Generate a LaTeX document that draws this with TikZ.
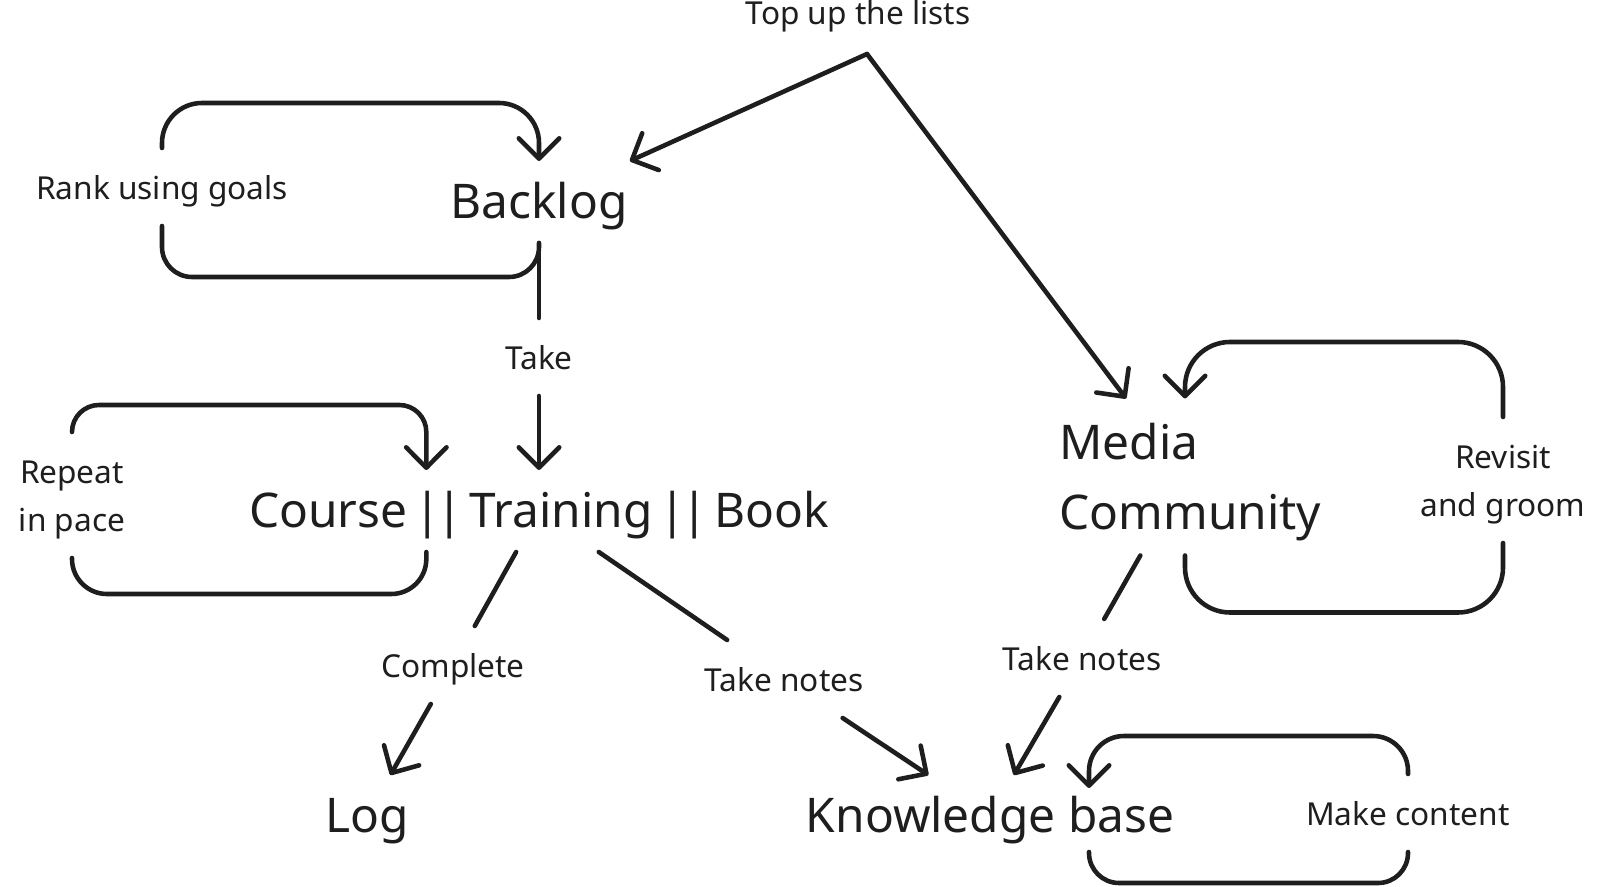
\documentclass[tikz,border=0pt]{standalone}
\usepackage{fontspec}
\setmainfont{Noto Sans}
\usetikzlibrary{arrows.meta}

\definecolor{ink}{RGB}{30,30,30}
\newcommand{\bars}{\hspace{2pt}|\kern-1.3pt|\hspace{2pt}}

\begin{document}
\begin{tikzpicture}[
    line width=1.3pt, line cap=round, line join=round, color=ink,
    txt/.style={inner xsep=1pt, inner ysep=0pt, outer sep=0pt, text=ink},
    big/.style={txt, font=\fontsize{13.6}{20.1}\selectfont, minimum height=0.82cm,
        text height=0.97em, text depth=0.03em},
    lbl/.style={txt, font=\fontsize{9}{13.7}\selectfont, minimum height=0.78cm,
        text height=0.86em, text depth=0.14em},
    lbltwo/.style={txt, font=\fontsize{9}{13.7}\selectfont, minimum height=1.26cm, align=center,
        text height=21pt, text depth=0.4pt},
    arr/.style={-{Straight Barb[length=5.8pt,width=11.5pt,round]}},
    ring/.style={rounded corners=#1},
    ring/.default=0.4cm
]
    \useasboundingbox (0,0) rectangle (16,-8.87);

    % text
    \node[lbl, anchor=base] (topup) at (8.58,-0.25) {Top up the lists};
    \coordinate (split) at (8.67,-0.54);

    \node[big] (backlog) at (5.39,-2.02) {Backlog};
    \node[lbl] (rank) at (1.62,-1.87) {Rank using goals};
    \node[lbl] (take) at (5.39,-3.57) {Take};

    \node[big] (course) at (5.39,-5.11) {Course\bars Training\bars Book};
    \node[lbltwo] (repeat) at (0.72,-4.95) {Repeat\\in pace};
    \node[lbl] (complete) at (4.53,-6.65) {Complete};
    \node[lbl] (notesa) at (7.84,-6.79) {Take notes};

    \node[big] (log) at (3.67,-8.16) {Log};
    \node[big] (kbase) at (9.90,-8.16) {Knowledge base};
    \node[lbl] (content) at (14.08,-8.13) {Make content};
    \coordinate (kbin) at (10.89,-7.88);
    \coordinate (kbout) at (10.89,-8.52);

    \node[big, align=left, text width=2.51cm, minimum height=1.57cm,
        text height=10pt, text depth=20.1pt] (media) at (11.85,-4.77) {Media\\Community};
    \node[lbl] (notesb) at (10.82,-6.58) {Take notes};
    \node[lbltwo] (revisit) at (15.03,-4.80) {Revisit\\and groom};

    % connectors
    \draw[arr] (split) -- (backlog);
    \draw[arr] (split) -- (media);
    \draw (backlog) -- (take);
    \draw[arr] (take) -- (course);
    \draw (course) -- (complete);
    \draw[arr] (complete) -- (log);
    \draw (course) -- (notesa);
    \draw[arr] (notesa) -- (kbase);
    \draw (media) -- (notesb);
    \draw[arr] (notesb) -- (kbase);

    % loops
    \draw[arr, ring] (rank.north) -- ++(0,0.45) -| (backlog.north);
    \draw[ring=0.3cm] (backlog.south) -- ++(0,-0.34) -| (rank.south);
    \draw[arr, ring=0.27cm] (repeat.north) -- ++(0,0.27) -| (course.160);
    \draw[ring=0.35cm] (course.200) -- ++(0,-0.42) -| (repeat.south);
    \draw[arr, ring=0.45cm] (revisit.north) -- ++(0,0.75) -| (media.north);
    \draw[ring=0.45cm] (media.south) -- ++(0,-0.57) -| (revisit.south);
    \draw[arr, ring=0.35cm] (content.north) -- ++(0,0.38) -| (kbin);
    \draw[ring=0.3cm] (kbout) -- ++(0,-0.31) -| (content.south);
\end{tikzpicture}
\end{document}
